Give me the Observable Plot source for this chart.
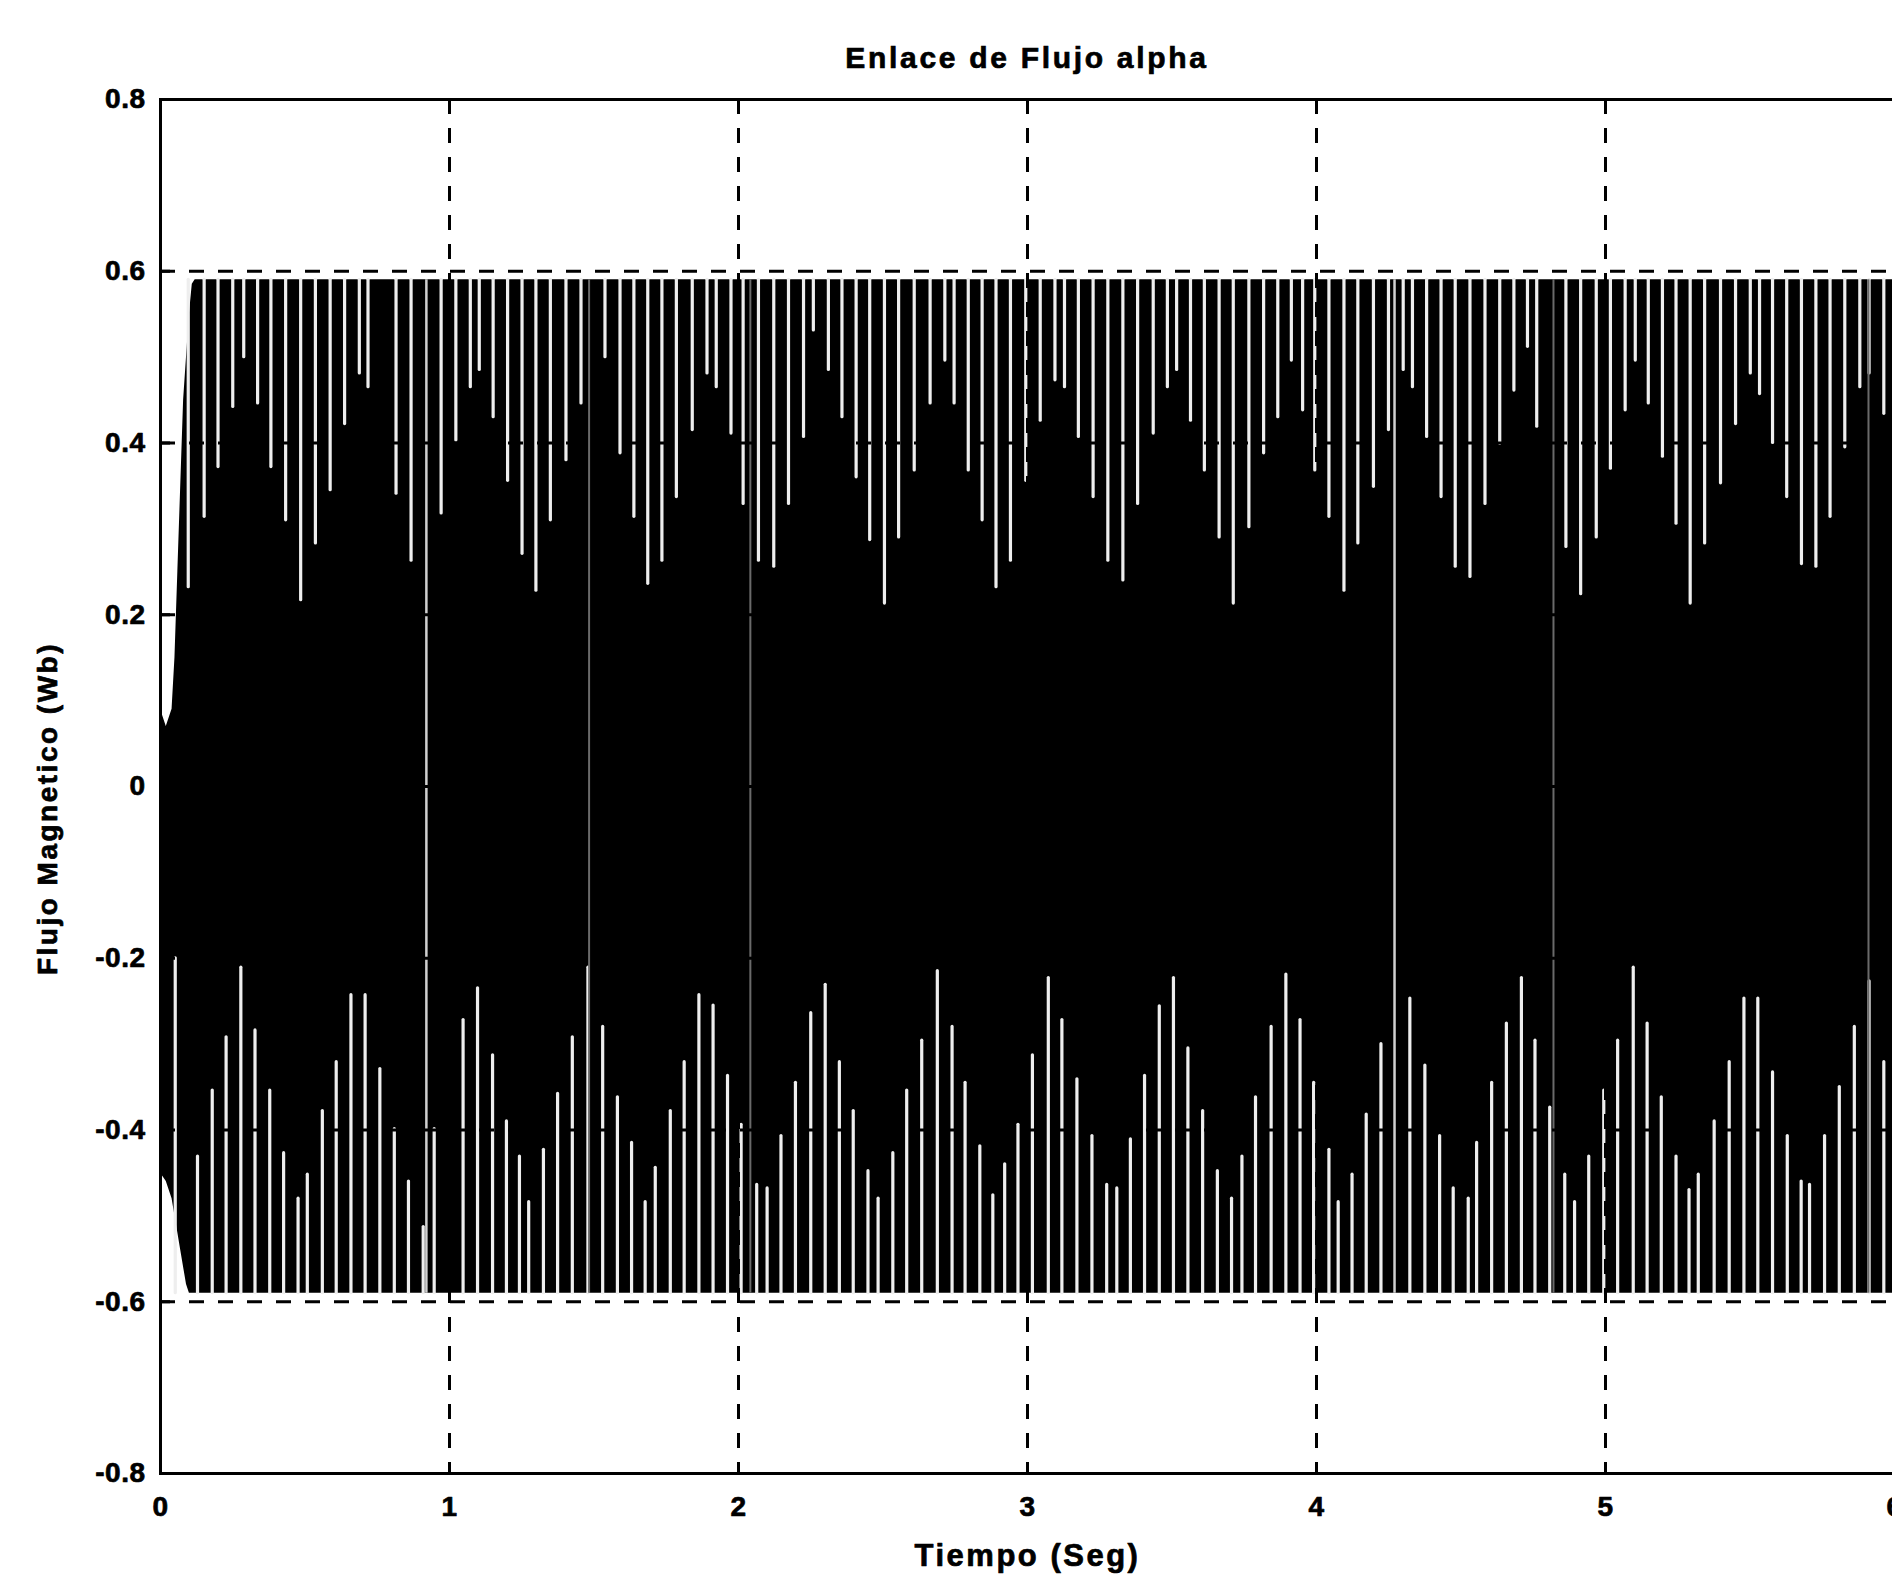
<!DOCTYPE html>
<html>
<head>
<meta charset="utf-8">
<script src="https://cdn.jsdelivr.net/npm/d3@7"></script>
<script src="https://cdn.jsdelivr.net/npm/@observablehq/plot@0.6"></script>
<style>
  html, body { margin: 0; padding: 0; background: #fff; width: 1892px; height: 1575px; overflow: hidden; }
  #title {
    width: 1896px; box-sizing: border-box; padding: 0 2px 0 160px; margin: 41px 0 0 0;
    text-align: center; line-height: 40px; height: 40px; letter-spacing: 2.7px;
    font: bold 30px "Liberation Sans", Arial, sans-serif; color: #000;
    -webkit-text-stroke: 0.7px #000;
  }
  #chart svg [aria-label$="tick label"] { letter-spacing: 0.5px; }
</style>
</head>
<body>
<div id="title">Enlace de Flujo alpha</div>
<div id="chart"></div>
<script>
// Axis ticks and labels
const xTicks = [0, 1, 2, 3, 4, 5, 6];
const yTicks = [-0.8, -0.6, -0.4, -0.2, 0, 0.2, 0.4, 0.6, 0.8];
const xLabel = "Tiempo (Seg)";
const yLabel = "Flujo Magnetico (Wb)";

// Envelope of the alpha flux linkage (Wb): start-up transient, then steady amplitude
const envT  = [0, 0.02, 0.04, 0.05, 0.06, 0.07, 0.08, 0.09, 0.10, 0.11, 0.12, 6.0];
const envHi = [0.09, 0.07, 0.09, 0.15, 0.25, 0.35, 0.45, 0.50, 0.55, 0.585, 0.59, 0.59];
const envLo = [-0.45, -0.46, -0.48, -0.50, -0.52, -0.54, -0.56, -0.58, -0.59, -0.59, -0.59, -0.59];
const amplitude = 0.59;

// Gaps between the tightly packed oscillation strokes, upper half:
// time (s) and the lowest flux value each gap reaches (Wb)
const gapUpperT = [0.096, 0.151, 0.199, 0.250, 0.288, 0.336, 0.382, 0.433, 0.485, 0.536, 0.587, 0.637, 0.688, 0.718,
  0.815, 0.867, 0.971, 1.022, 1.072, 1.103, 1.151, 1.201, 1.251, 1.299, 1.349, 1.403, 1.455, 1.538, 1.590, 1.638,
  1.686, 1.735, 1.785, 1.840, 1.891, 1.923, 1.974,
  2.016, 2.069, 2.122, 2.173, 2.225, 2.259, 2.311, 2.358, 2.407, 2.454, 2.505, 2.554, 2.608, 2.663, 2.714, 2.746,
  2.795, 2.843, 2.891, 2.941, 2.994, 3.044, 3.095, 3.128, 3.176, 3.227, 3.278, 3.330, 3.381, 3.435, 3.484, 3.516,
  3.564, 3.612, 3.663, 3.712, 3.766, 3.817, 3.866, 3.913, 3.952,
  3.994, 4.043, 4.095, 4.143, 4.197, 4.249, 4.300, 4.332, 4.381, 4.431, 4.480, 4.531, 4.583, 4.634, 4.683, 4.730,
  4.762, 4.863, 4.914, 4.968, 5.017, 5.068, 5.103, 5.148, 5.197, 5.244, 5.293, 5.343, 5.398, 5.450, 5.501, 5.533,
  5.578, 5.627, 5.678, 5.728, 5.777, 5.828, 5.880, 5.912, 5.963];
const gapUpperV = [0.232, 0.314, 0.372, 0.442, 0.500, 0.446, 0.372, 0.310, 0.217, 0.283, 0.345, 0.422, 0.481, 0.465,
  0.341, 0.263, 0.318, 0.403, 0.465, 0.485, 0.430, 0.356, 0.271, 0.228, 0.310, 0.380, 0.446, 0.500, 0.388, 0.314,
  0.236, 0.263, 0.337, 0.415, 0.481, 0.465, 0.411,
  0.329, 0.263, 0.256, 0.329, 0.407, 0.531, 0.485, 0.430, 0.360, 0.287, 0.213, 0.290, 0.368, 0.446, 0.496, 0.446,
  0.368, 0.310, 0.232, 0.263, 0.356, 0.426, 0.473, 0.465, 0.407, 0.337, 0.263, 0.240, 0.329, 0.411, 0.465, 0.485,
  0.426, 0.368, 0.290, 0.213, 0.302, 0.388, 0.430, 0.496, 0.438,
  0.368, 0.314, 0.228, 0.283, 0.349, 0.415, 0.485, 0.465, 0.407, 0.337, 0.256, 0.244, 0.329, 0.399, 0.461, 0.512,
  0.419, 0.279, 0.224, 0.290, 0.370, 0.438, 0.496, 0.446, 0.384, 0.306, 0.213, 0.283, 0.353, 0.422, 0.481, 0.457,
  0.400, 0.337, 0.259, 0.256, 0.314, 0.395, 0.465, 0.481, 0.434];

// Gaps in the lower half: time (s) and the highest flux value each gap reaches (Wb)
const gapLowerT = [0.051, 0.128, 0.179, 0.227, 0.278, 0.327, 0.378, 0.426, 0.476, 0.508, 0.560, 0.608, 0.659, 0.708,
  0.759, 0.809, 0.858, 0.909, 0.947, 1.047, 1.097, 1.149, 1.197, 1.242, 1.274, 1.325, 1.374, 1.425, 1.479, 1.530,
  1.581, 1.630, 1.677, 1.712, 1.764, 1.812, 1.863, 1.912, 1.962,
  2.009, 2.063, 2.099, 2.147, 2.197, 2.250, 2.300, 2.349, 2.397, 2.448, 2.483, 2.534, 2.582, 2.634, 2.688, 2.739,
  2.784, 2.835, 2.880, 2.921, 2.967, 3.017, 3.072, 3.119, 3.171, 3.223, 3.274, 3.309, 3.356, 3.405, 3.456, 3.505,
  3.555, 3.606, 3.657, 3.706, 3.742, 3.789, 3.843, 3.894, 3.943, 3.990,
  4.043, 4.075, 4.123, 4.172, 4.223, 4.323, 4.375, 4.426, 4.473, 4.525, 4.554, 4.606, 4.657, 4.709, 4.756, 4.807,
  4.859, 4.893, 4.942, 4.994, 5.042, 5.096, 5.144, 5.193, 5.244, 5.289, 5.321, 5.376, 5.428, 5.479, 5.527, 5.578,
  5.629, 5.677, 5.706, 5.758, 5.809, 5.861, 5.912, 5.963];
const gapLowerV = [-0.200, -0.431, -0.354, -0.292, -0.211, -0.284, -0.354, -0.427, -0.480, -0.452, -0.378, -0.321, -0.243, -0.243,
  -0.329, -0.399, -0.460, -0.513, -0.399, -0.272, -0.235, -0.313, -0.390, -0.431, -0.484, -0.423, -0.358, -0.292, -0.211, -0.280,
  -0.362, -0.415, -0.484, -0.444, -0.378, -0.321, -0.243, -0.255, -0.337,
  -0.394, -0.464, -0.468, -0.407, -0.345, -0.264, -0.231, -0.321, -0.378, -0.448, -0.480, -0.427, -0.354, -0.296, -0.215, -0.280,
  -0.345, -0.419, -0.476, -0.440, -0.394, -0.313, -0.223, -0.272, -0.341, -0.407, -0.464, -0.468, -0.411, -0.337, -0.256, -0.223,
  -0.305, -0.378, -0.448, -0.480, -0.431, -0.362, -0.280, -0.219, -0.272, -0.345,
  -0.423, -0.484, -0.452, -0.382, -0.300, -0.247, -0.325, -0.407, -0.468, -0.480, -0.415, -0.345, -0.276, -0.223, -0.296, -0.374,
  -0.452, -0.484, -0.431, -0.354, -0.296, -0.211, -0.276, -0.362, -0.431, -0.470, -0.452, -0.390, -0.321, -0.247, -0.247, -0.333,
  -0.407, -0.460, -0.464, -0.407, -0.350, -0.280, -0.227, -0.321];

// Gaps that run through the whole band (s): clear ones, then faint ones
const fullGapT = [0.92, 4.27];
const faintGapT = [1.483, 2.041, 4.82, 5.91];

const envelope = envT.map((t, i) => ({t, hi: envHi[i], lo: envLo[i]}));
const upperGaps = gapUpperT.map((t, i) => ({t, v: gapUpperV[i]}));
const lowerGaps = gapLowerT.map((t, i) => ({t, v: gapLowerV[i]}));

const font = "'Liberation Sans', Arial, sans-serif";
const fmtX = d => String(d);
const fmtY = d => d === 0 ? "0" : d.toFixed(1);
const dash = {stroke: "black", strokeOpacity: 1, strokeWidth: 3, strokeDasharray: "15,14"};
const tickText = {fontFamily: font, fontWeight: "bold", fontSize: 28, fill: "black",
  textStroke: "black", textStrokeWidth: 0.7};
const labelText = {fontFamily: font, fontWeight: "bold", fill: "black", stroke: "black", strokeWidth: 0.7};
const gapStroke = {stroke: "#eeeeee", strokeWidth: 3.2, strokeLinecap: "round"};

const chart = Plot.plot({
  width: 1896,
  height: 1494,
  marginTop: 18,
  marginRight: 2,
  marginBottom: 102,
  marginLeft: 160,
  style: "max-width:none;background:white;color:black;overflow:visible;letter-spacing:2.5px;font-family:" + font,
  x: {domain: [0, 6], axis: null},
  y: {domain: [-0.8, 0.8], axis: null},
  marks: [
    // flux band
    Plot.areaY(envelope, {x: "t", y1: "lo", y2: "hi", fill: "black"}),
    // light gaps between strokes
    Plot.ruleX(upperGaps, {x: "t", y1: "v", y2: amplitude, ...gapStroke}),
    Plot.ruleX(lowerGaps, {x: "t", y1: -amplitude, y2: "v", ...gapStroke}),
    Plot.ruleX(fullGapT, {x: d => d, y1: -amplitude, y2: amplitude, stroke: "#d0d0d0", strokeWidth: 2.5}),
    Plot.ruleX(faintGapT, {x: d => d, y1: -amplitude, y2: amplitude, stroke: "#6a6a6a", strokeWidth: 2}),
    // dashed grid
    Plot.gridX(xTicks, dash),
    Plot.gridY(yTicks, dash),
    // inward tick marks
    Plot.axisX(xTicks, {anchor: "bottom", tickSize: -10, fill: "none", label: null, strokeWidth: 3}),
    Plot.axisX(xTicks, {anchor: "top", tickSize: -10, fill: "none", label: null, strokeWidth: 3}),
    Plot.axisY(yTicks, {anchor: "left", tickSize: -10, fill: "none", label: null, strokeWidth: 3}),
    // tick labels
    Plot.axisX(xTicks, {anchor: "bottom", tickSize: 0, tickPadding: 23, tickFormat: fmtX, label: null, ...tickText}),
    Plot.axisY(yTicks, {anchor: "left", tickSize: 0, tickPadding: 15, tickFormat: fmtY, label: null, ...tickText}),
    Plot.frame({stroke: "black", strokeWidth: 3}),
    // axis titles
    Plot.text([xLabel], {text: d => d, frameAnchor: "bottom", dy: 92, fontSize: 31, ...labelText}),
    Plot.text([yLabel], {text: d => d, frameAnchor: "left", textAnchor: "middle", rotate: -90, dx: -112, dy: 22,
      fontSize: 28, ...labelText})
  ]
});
document.getElementById("chart").append(chart);
</script>
</body>
</html>
